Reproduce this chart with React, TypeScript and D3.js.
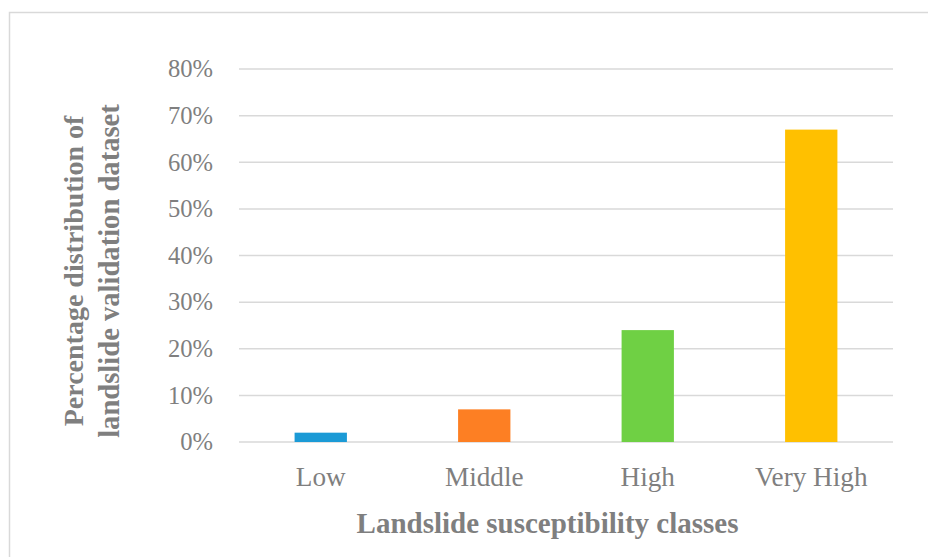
import React from "react";
import * as d3 from "d3";

const categories: string[] = ["Low", "Middle", "High", "Very High"];
const shares: number[] = [0.02, 0.07, 0.24, 0.67];
const barColors: string[] = ["#1b9ad6", "#fd7f23", "#6fd044", "#ffc000"];
const yTicks: number[] = [0, 0.1, 0.2, 0.3, 0.4, 0.5, 0.6, 0.7, 0.8];
const yTitleLines: string[] = ["Percentage distribution of", "landslide validation dataset"];
const xTitle = "Landslide susceptibility classes";

const W = 928;
const H = 557;
const plot = { left: 239, right: 893, top: 69, bottom: 442 };
const FONT = "'Palatino Linotype', 'Book Antiqua', Palatino, 'Liberation Serif', serif";
const TEXT = "#7f7f7f";
const GRID = "#d9d9d9";

export default function App() {
  const x = d3
    .scaleBand<string>()
    .domain(categories)
    .range([plot.left, plot.right])
    .paddingInner(0.68)
    .paddingOuter(0.34);
  const y = d3.scaleLinear().domain([0, 0.8]).range([plot.bottom, plot.top]);
  const pct = d3.format(".0%");

  // baselines of the two rotated title lines (x after rotation), their sizes and shared centre (y)
  const yTitleBaselines = [83, 119];
  const yTitleSizes = [28, 28.6];
  const yTitleCy = 271;

  return (
    <svg
      width={W}
      height={H}
      viewBox={`0 0 ${W} ${H}`}
      style={{ position: "absolute", left: 0, top: 0, background: "#fff" }}
      fontFamily={FONT}
    >
      <rect x={9.5} y={12.5} width={W + 20} height={H + 20} fill="#fff" stroke={GRID} strokeWidth={1.5} />

      {yTicks.map((t) => (
        <g key={t}>
          <line x1={plot.left} x2={plot.right} y1={y(t)} y2={y(t)} stroke={GRID} strokeWidth={1.5} />
          <text x={213} y={y(t)} dy="0.34em" textAnchor="end" fontSize={24.6} fill={TEXT}>
            {pct(t)}
          </text>
        </g>
      ))}

      {categories.map((c, i) => (
        <rect
          key={c}
          x={x(c)}
          y={y(shares[i])}
          width={x.bandwidth()}
          height={y(0) - y(shares[i])}
          fill={barColors[i]}
        />
      ))}

      {categories.map((c) => (
        <text
          key={c}
          x={(x(c) as number) + x.bandwidth() / 2}
          y={486}
          textAnchor="middle"
          fontSize={27.2}
          fill={TEXT}
        >
          {c}
        </text>
      ))}

      <text x={547.5} y={533} textAnchor="middle" fontSize={29} fontWeight="bold" fill={TEXT}>
        {xTitle}
      </text>

      <g transform={`translate(0,${yTitleCy}) rotate(-90)`}>
        {yTitleLines.map((line, i) => (
          <text
            key={line}
            x={0}
            y={yTitleBaselines[i]}
            textAnchor="middle"
            fontSize={yTitleSizes[i]}
            fontWeight="bold"
            fill={TEXT}
          >
            {line}
          </text>
        ))}
      </g>
    </svg>
  );
}
